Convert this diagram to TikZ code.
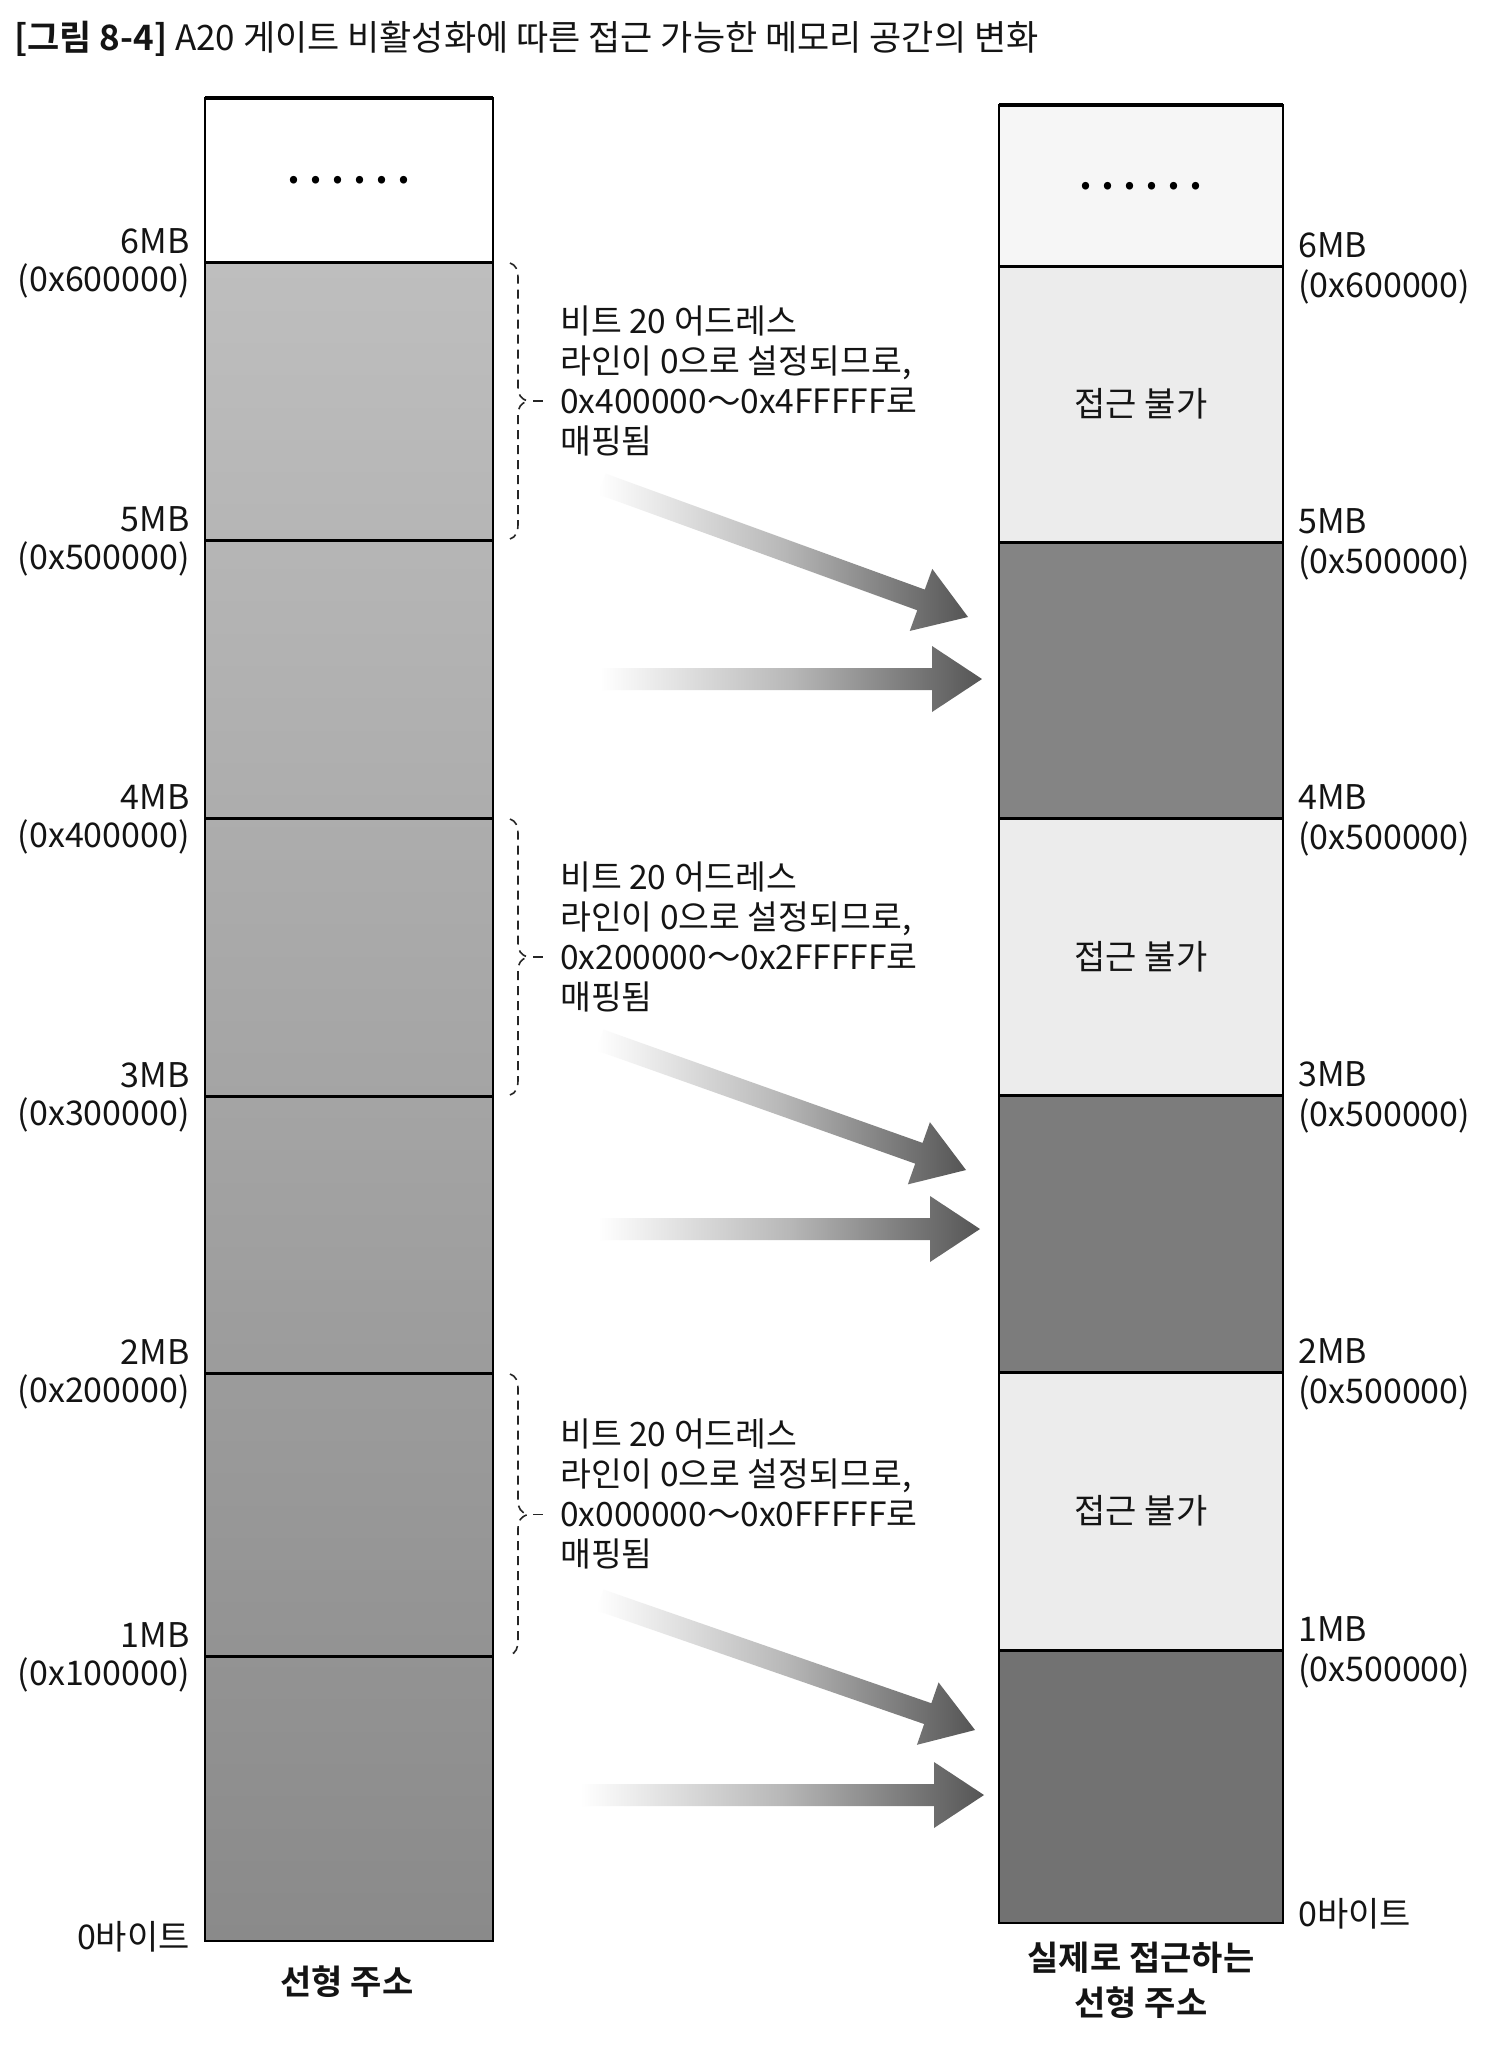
\documentclass[tikz,border=0pt]{standalone}
\usepackage{fontspec}
\setmainfont{Noto Sans CJK KR}[BoldFont={Noto Sans CJK KR Bold}]
\usetikzlibrary{calc}
\definecolor{lcolTop}{RGB}{190,190,190}
\definecolor{lcolBot}{RGB}{138,138,138}
\definecolor{rlight}{RGB}{236,236,236}
\definecolor{rtop}{RGB}{246,246,246}
\definecolor{rdarkA}{RGB}{132,132,132}
\definecolor{rdarkB}{RGB}{124,124,124}
\definecolor{rdarkC}{RGB}{114,114,114}
\definecolor{arrowdark}{RGB}{85,85,85}
\definecolor{txt}{RGB}{20,20,20}

\tikzset{
  lbl/.style={font=\fontsize{34}{38}\selectfont, text=txt, inner sep=0pt},
  info/.style={font=\fontsize{33.5}{40}\selectfont, text=txt, inner sep=0pt, anchor=base west},
  colline/.style={draw=black, line width=2.6pt},
  sepline/.style={draw=black, line width=3pt},
  bracestyle/.style={draw=black!85, line width=1.6pt, dash pattern=on 9pt off 6pt},
  arrowshade/.style={left color=white, right color=arrowdark, middle color=black!28},
  dotsty/.style={font=\bfseries\fontsize{40}{40}\selectfont, inner sep=0pt, anchor=base},
  captext/.style={font=\bfseries\fontsize{34}{38}\selectfont, text=txt, inner sep=0pt, anchor=base},
}

\newcommand\blockarrow[3]{%
  \coordinate (#1s) at (#2);
  \coordinate (#1e) at (#3);
  \coordinate (#1h) at ($(#1e)!50pt!(#1s)$);
  \shade[arrowshade] ($(#1s)!11pt!90:(#1e)$) -- ($(#1h)!11pt!90:(#1e)$) -- ($(#1h)!33pt!90:(#1e)$) -- (#1e)
     -- ($(#1h)!33pt!-90:(#1e)$) -- ($(#1h)!11pt!-90:(#1e)$) -- ($(#1s)!11pt!-90:(#1e)$) -- cycle;}

\newcommand\membrace[4]{%
  \pgfmathsetmacro\bmid{(#2+#3)/2}
  \draw[bracestyle] (510,#2+1) .. controls (516,#2+3) and (518,#2+8) .. (518,#2+16) -- (518,\bmid-14)
     .. controls (518,\bmid-6) and (521,\bmid-2) .. (528,\bmid)
     .. controls (521,\bmid+2) and (518,\bmid+6) .. (518,\bmid+14) -- (518,#3-16)
     .. controls (518,#3-8) and (516,#3-3) .. (510,#3-1);
  \draw[draw=black!85, line width=1.6pt] (533,\bmid) -- (543,\bmid);
  \coordinate (#1) at (543,\bmid);
  \node[info] (#1l1) at (560,\bmid-68) {비트 20 어드레스};
  \node[info] (#1l2) at (560,\bmid-28) {라인이 0으로 설정되므로,};
  \node[info] (#1l3) at (560,\bmid+12) {#4};
  \node[info] (#1l4) at (560,\bmid+52) {매핑됨};
}

\newcommand\leftlabel[4]{%
  \node[lbl, anchor=base east] (#1a) at (190,#2-9) {#3};
  \node[lbl, anchor=base east] (#1b) at (190,#2+29) {#4};}
\newcommand\rightlabel[4]{%
  \node[lbl, anchor=base west] (#1a) at (1298,#2-9) {#3};
  \node[lbl, anchor=base west] (#1b) at (1298,#2+31) {#4};}

\begin{document}
\begin{tikzpicture}[x=1pt,y=-1pt]
\useasboundingbox (0,0) rectangle (1496,2048);
\fill[white] (0,0) rectangle (1496,2048);

% title
\node[anchor=base west, inner sep=0pt, font=\fontsize{35}{40}\selectfont, text=txt] (title) at (14,50)
  {\textbf{[그림 8-4]} A20 게이트 비활성화에 따른 접근 가능한 메모리 공간의 변화};

% ---------- left column ----------
\fill[white] (205,98) rectangle (493,262);
\shade[top color=lcolTop, bottom color=lcolBot] (205,262) rectangle (493,1941);
\foreach \yy in {262,540,818,1096,1373,1656} \draw[sepline] (205,\yy) -- (493,\yy);
\draw[colline] (205,98) rectangle (493,1941);
\draw[black, line width=4pt] (205,98) -- (493,98);
\node[dotsty] (ldots) at (349,183) {.\kern9pt.\kern9pt.\kern9pt.\kern9pt.\kern9pt.};

% ---------- right column ----------
\fill[rtop] (999,105) rectangle (1283,266);
\fill[rlight] (999,266) rectangle (1283,542);
\fill[rdarkA] (999,542) rectangle (1283,818);
\fill[rlight] (999,818) rectangle (1283,1095);
\fill[rdarkB] (999,1095) rectangle (1283,1372);
\fill[rlight] (999,1372) rectangle (1283,1650);
\fill[rdarkC] (999,1650) rectangle (1283,1923);
\foreach \yy in {266,542,818,1095,1372,1650} \draw[sepline] (999,\yy) -- (1283,\yy);
\draw[colline] (999,105) rectangle (1283,1923);
\draw[black, line width=4pt] (999,105) -- (1283,105);
\node[dotsty] (rdots) at (1141,189) {.\kern9pt.\kern9pt.\kern9pt.\kern9pt.\kern9pt.};

\node[lbl] (na1) at (1141,404) {접근 불가};
\node[lbl] (na2) at (1141,957) {접근 불가};
\node[lbl] (na3) at (1141,1511) {접근 불가};

% ---------- labels ----------
\leftlabel{L6}{262}{6MB}{(0x600000)}
\leftlabel{L5}{540}{5MB}{(0x500000)}
\leftlabel{L4}{818}{4MB}{(0x400000)}
\leftlabel{L3}{1096}{3MB}{(0x300000)}
\leftlabel{L2}{1373}{2MB}{(0x200000)}
\leftlabel{L1}{1656}{1MB}{(0x100000)}
\node[lbl, anchor=base east] (L0) at (190,1949) {0바이트};

\rightlabel{R6}{266}{6MB}{(0x600000)}
\rightlabel{R5}{542}{5MB}{(0x500000)}
\rightlabel{R4}{818}{4MB}{(0x500000)}
\rightlabel{R3}{1095}{3MB}{(0x500000)}
\rightlabel{R2}{1372}{2MB}{(0x500000)}
\rightlabel{R1}{1650}{1MB}{(0x500000)}
\node[lbl, anchor=base west] (R0) at (1298,1926) {0바이트};

\node[captext] (lcap) at (347,1994) {선형 주소};
\node[captext] (rcap1) at (1141,1970) {실제로 접근하는};
\node[captext] (rcap2) at (1141,2015) {선형 주소};

% ---------- braces and notes ----------
\membrace{b1}{262}{540}{0x400000～0x4FFFFF로}
\membrace{b2}{818}{1096}{0x200000～0x2FFFFF로}
\membrace{b3}{1373}{1656}{0x000000～0x0FFFFF로}

% ---------- arrows ----------
\blockarrow{a1}{602,484}{968,617}
\blockarrow{a2}{600,679}{982,679}
\blockarrow{a3}{600,1040}{966,1170}
\blockarrow{a4}{598,1229}{980,1229}
\blockarrow{a5}{600,1600}{975,1730}
\blockarrow{a6}{580,1795}{984,1795}
\end{tikzpicture}
\end{document}
